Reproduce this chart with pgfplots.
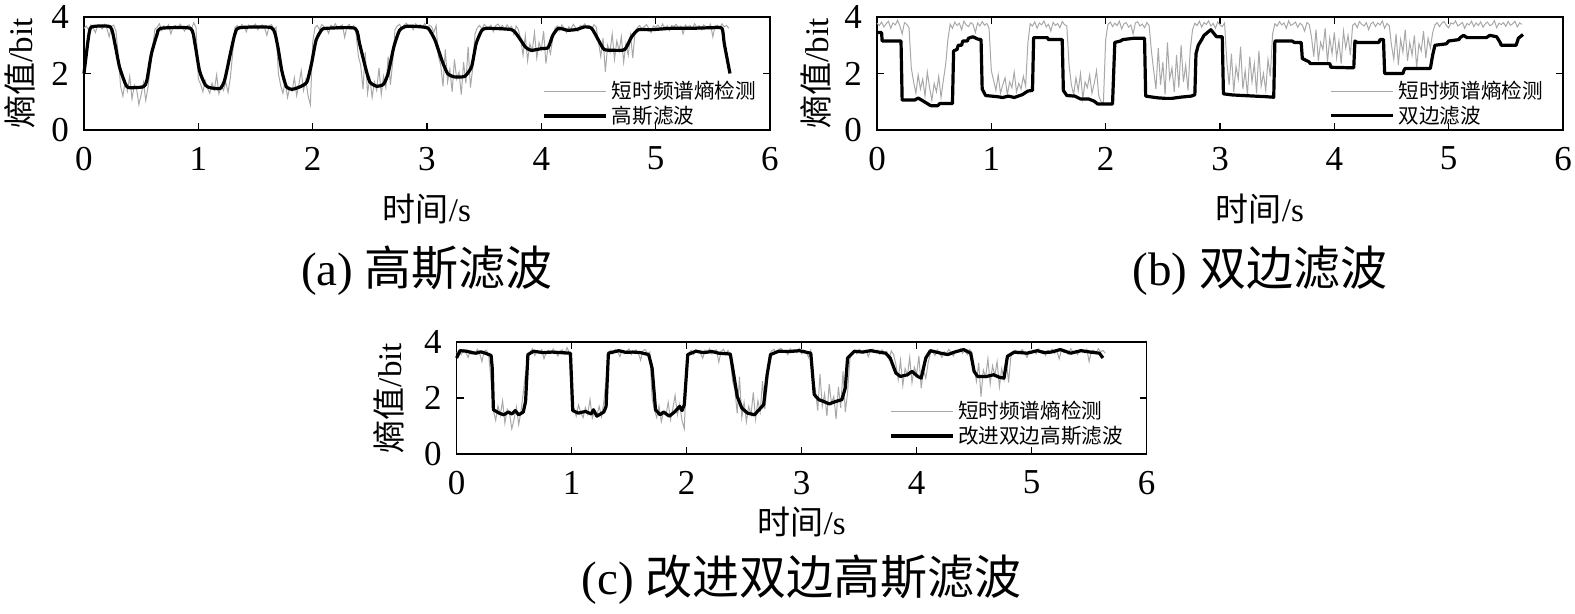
\documentclass[border=0pt]{standalone}
\usepackage{fontspec}
\setmainfont{Liberation Serif}
\newfontfamily\cjk{Noto Sans CJK SC}
\usepackage{pgfplots}
\usepackage{pgfplotstable}
\pgfplotsset{compat=1.18}

\definecolor{stgray}{RGB}{168,168,168}

% short-time spectral entropy, shared by (a) and (c)
\pgfplotstableread[row sep=\\]{
t y\\
0.00 3.60\\ 0.02 3.68\\ 0.04 3.55\\ 0.06 3.72\\ 0.08 3.62\\ 0.10 3.45\\ 0.12 3.70\\ 0.14 3.66\\ 0.16 3.58\\ 0.18 3.74\\
0.20 3.60\\ 0.22 3.30\\ 0.24 3.67\\ 0.26 3.71\\ 0.28 3.50\\ 0.30 2.60\\ 0.32 1.55\\ 0.34 1.20\\ 0.36 1.72\\ 0.38 1.38\\
0.40 1.90\\ 0.42 1.10\\ 0.44 1.60\\ 0.46 1.45\\ 0.48 0.90\\ 0.50 1.25\\ 0.52 1.68\\ 0.54 1.05\\ 0.56 1.52\\ 0.58 2.20\\
0.60 2.90\\ 0.62 3.57\\ 0.64 3.64\\ 0.66 3.76\\ 0.68 3.52\\ 0.70 3.69\\ 0.72 3.61\\ 0.74 3.73\\ 0.76 3.40\\ 0.78 3.65\\
0.80 3.70\\ 0.82 3.59\\ 0.84 3.75\\ 0.86 3.63\\ 0.88 3.50\\ 0.90 3.68\\ 0.92 3.72\\ 0.94 3.56\\ 0.96 3.80\\ 0.98 3.62\\
1.00 1.80\\ 1.02 1.62\\ 1.04 1.35\\ 1.06 1.75\\ 1.08 1.48\\ 1.10 1.30\\ 1.12 1.66\\ 1.14 1.42\\ 1.16 1.95\\ 1.18 1.28\\
1.20 1.55\\ 1.22 1.40\\ 1.24 1.70\\ 1.26 1.33\\ 1.28 1.85\\ 1.30 2.70\\ 1.32 3.62\\ 1.34 3.70\\ 1.36 3.58\\ 1.38 3.74\\
1.40 3.66\\ 1.42 3.48\\ 1.44 3.71\\ 1.46 3.60\\ 1.48 3.68\\ 1.50 3.75\\ 1.52 3.55\\ 1.54 3.67\\ 1.56 3.72\\ 1.58 3.61\\
1.60 3.35\\ 1.62 3.69\\ 1.64 3.73\\ 1.66 3.58\\ 1.68 3.64\\ 1.70 2.00\\ 1.72 1.58\\ 1.74 1.30\\ 1.76 1.72\\ 1.78 1.15\\
1.80 1.50\\ 1.82 1.38\\ 1.84 1.85\\ 1.86 1.22\\ 1.88 1.62\\ 1.90 2.10\\ 1.92 1.40\\ 1.94 1.78\\ 1.96 1.20\\ 1.98 0.90\\
2.00 3.10\\ 2.02 3.62\\ 2.04 3.70\\ 2.06 3.55\\ 2.08 3.73\\ 2.10 3.66\\ 2.12 3.60\\ 2.14 3.42\\ 2.16 3.71\\ 2.18 3.64\\
2.20 3.76\\ 2.22 3.57\\ 2.24 3.68\\ 2.26 3.72\\ 2.28 3.28\\ 2.30 3.66\\ 2.32 3.74\\ 2.34 3.59\\ 2.36 3.70\\ 2.38 3.40\\
2.40 2.60\\ 2.42 2.30\\ 2.44 1.45\\ 2.46 2.75\\ 2.48 1.30\\ 2.50 1.85\\ 2.52 1.15\\ 2.54 1.70\\ 2.56 1.40\\ 2.58 2.20\\
2.60 1.25\\ 2.62 1.90\\ 2.64 1.50\\ 2.66 2.60\\ 2.68 1.60\\ 2.70 2.40\\ 2.72 3.55\\ 2.74 3.68\\ 2.76 3.74\\ 2.78 3.60\\
2.80 3.72\\ 2.82 3.78\\ 2.84 3.65\\ 2.86 3.70\\ 2.88 3.55\\ 2.90 3.76\\ 2.92 3.69\\ 2.94 3.73\\ 2.96 3.62\\ 2.98 3.77\\
3.00 3.58\\ 3.02 3.71\\ 3.04 3.66\\ 3.06 3.45\\ 3.08 3.70\\ 3.10 2.60\\ 3.12 2.30\\ 3.14 1.55\\ 3.16 2.85\\ 3.18 1.70\\
3.20 2.15\\ 3.22 1.35\\ 3.24 2.50\\ 3.26 1.80\\ 3.28 2.05\\ 3.30 1.25\\ 3.32 2.40\\ 3.34 1.65\\ 3.36 2.95\\ 3.38 1.50\\
3.40 2.20\\ 3.42 3.40\\ 3.44 3.62\\ 3.46 3.70\\ 3.48 3.58\\ 3.50 3.74\\ 3.52 3.66\\ 3.54 3.60\\ 3.56 3.71\\ 3.58 3.48\\
3.60 3.69\\ 3.62 3.75\\ 3.64 3.63\\ 3.66 3.70\\ 3.68 3.56\\ 3.70 3.72\\ 3.72 3.61\\ 3.74 3.67\\ 3.76 3.38\\ 3.78 3.68\\
3.80 3.55\\ 3.82 3.20\\ 3.84 2.65\\ 3.86 3.35\\ 3.88 2.45\\ 3.90 3.05\\ 3.92 2.80\\ 3.94 3.45\\ 3.96 2.55\\ 3.98 3.10\\
4.00 2.85\\ 4.02 3.50\\ 4.04 2.35\\ 4.06 3.00\\ 4.08 2.70\\ 4.10 3.25\\ 4.12 3.60\\ 4.14 3.68\\ 4.16 3.52\\ 4.18 3.72\\
4.20 3.60\\ 4.22 3.45\\ 4.24 3.65\\ 4.26 3.58\\ 4.28 3.74\\ 4.30 3.62\\ 4.32 3.50\\ 4.34 3.70\\ 4.36 3.66\\ 4.38 3.76\\
4.40 3.60\\ 4.42 3.69\\ 4.44 3.55\\ 4.46 3.73\\ 4.48 3.64\\ 4.50 3.10\\ 4.52 2.60\\ 4.54 3.25\\ 4.56 2.05\\ 4.58 3.00\\
4.60 2.75\\ 4.62 3.40\\ 4.64 2.50\\ 4.66 3.15\\ 4.68 2.80\\ 4.70 3.30\\ 4.72 2.40\\ 4.74 3.05\\ 4.76 2.65\\ 4.78 3.35\\
4.80 2.55\\ 4.82 3.50\\ 4.84 3.62\\ 4.86 3.70\\ 4.88 3.57\\ 4.90 3.66\\ 4.92 3.73\\ 4.94 3.60\\ 4.96 3.45\\ 4.98 3.68\\
5.00 3.64\\ 5.02 3.71\\ 5.04 3.58\\ 5.06 3.75\\ 5.08 3.62\\ 5.10 3.69\\ 5.12 3.52\\ 5.14 3.70\\ 5.16 3.66\\ 5.18 3.74\\
5.20 3.60\\ 5.22 3.68\\ 5.24 3.40\\ 5.26 3.72\\ 5.28 3.63\\ 5.30 3.70\\ 5.32 3.57\\ 5.34 3.76\\ 5.36 3.64\\ 5.38 3.69\\
5.40 3.55\\ 5.42 3.72\\ 5.44 3.66\\ 5.46 3.61\\ 5.48 3.74\\ 5.50 3.30\\ 5.52 3.68\\ 5.54 3.71\\ 5.56 3.59\\ 5.58 3.76\\
5.60 3.65\\ 5.62 3.70\\ 5.64 3.60\\
}\grayA

% short-time spectral entropy as shown in (b)
\pgfplotstableread[row sep=\\]{
t y\\
0.00 3.78\\ 0.02 3.70\\ 0.04 3.82\\ 0.06 3.65\\ 0.08 3.76\\ 0.10 3.85\\ 0.12 3.60\\ 0.14 3.79\\ 0.16 3.72\\ 0.18 3.88\\
0.20 3.68\\ 0.22 3.40\\ 0.24 3.80\\ 0.26 3.74\\ 0.28 3.62\\ 0.30 2.20\\ 0.32 1.70\\ 0.34 1.30\\ 0.36 1.95\\ 0.38 1.45\\
0.40 1.80\\ 0.42 1.20\\ 0.44 2.05\\ 0.46 1.50\\ 0.48 1.05\\ 0.50 1.65\\ 0.52 1.35\\ 0.54 1.90\\ 0.56 1.15\\ 0.58 1.75\\
0.60 2.30\\ 0.62 3.20\\ 0.64 3.75\\ 0.66 3.60\\ 0.68 3.82\\ 0.70 3.70\\ 0.72 3.78\\ 0.74 3.55\\ 0.76 3.85\\ 0.78 3.72\\
0.80 3.66\\ 0.82 3.80\\ 0.84 3.74\\ 0.86 3.45\\ 0.88 3.79\\ 0.90 3.68\\ 0.92 3.84\\ 0.94 3.71\\ 0.96 3.77\\ 0.98 3.60\\
1.00 2.10\\ 1.02 1.75\\ 1.04 1.40\\ 1.06 1.95\\ 1.08 1.30\\ 1.10 1.60\\ 1.12 1.85\\ 1.14 1.25\\ 1.16 1.70\\ 1.18 1.50\\
1.20 2.05\\ 1.22 1.35\\ 1.24 1.65\\ 1.26 1.45\\ 1.28 1.90\\ 1.30 1.55\\ 1.32 3.10\\ 1.34 3.76\\ 1.36 3.68\\ 1.38 3.83\\
1.40 3.60\\ 1.42 3.79\\ 1.44 3.72\\ 1.46 3.86\\ 1.48 3.65\\ 1.50 3.74\\ 1.52 3.50\\ 1.54 3.81\\ 1.56 3.70\\ 1.58 3.77\\
1.60 3.62\\ 1.62 3.84\\ 1.64 3.73\\ 1.66 3.69\\ 1.68 2.30\\ 1.70 1.60\\ 1.72 1.25\\ 1.74 1.85\\ 1.76 1.40\\ 1.78 2.00\\
1.80 1.10\\ 1.82 1.70\\ 1.84 1.50\\ 1.86 1.95\\ 1.88 1.30\\ 1.90 1.65\\ 1.92 2.10\\ 1.94 1.20\\ 1.96 1.00\\ 1.98 0.95\\
2.00 3.20\\ 2.02 3.74\\ 2.04 3.82\\ 2.06 3.66\\ 2.08 3.78\\ 2.10 3.70\\ 2.12 3.85\\ 2.14 3.58\\ 2.16 3.76\\ 2.18 3.80\\
2.20 3.64\\ 2.22 3.72\\ 2.24 3.40\\ 2.26 3.79\\ 2.28 3.83\\ 2.30 3.68\\ 2.32 3.75\\ 2.34 3.62\\ 2.36 3.80\\ 2.38 3.70\\
2.40 2.80\\ 2.42 2.10\\ 2.44 1.45\\ 2.46 2.90\\ 2.48 1.60\\ 2.50 2.40\\ 2.52 1.25\\ 2.54 3.10\\ 2.56 1.80\\ 2.58 2.20\\
2.60 1.35\\ 2.62 2.65\\ 2.64 1.50\\ 2.66 3.00\\ 2.68 1.70\\ 2.70 2.30\\ 2.72 1.40\\ 2.74 2.85\\ 2.76 3.55\\ 2.78 3.78\\
2.80 3.70\\ 2.82 3.85\\ 2.84 3.64\\ 2.86 3.80\\ 2.88 3.74\\ 2.90 3.86\\ 2.92 3.68\\ 2.94 3.77\\ 2.96 3.60\\ 2.98 3.82\\
3.00 3.72\\ 3.02 3.66\\ 3.04 3.79\\ 3.06 2.40\\ 3.08 1.60\\ 3.10 2.70\\ 3.12 1.35\\ 3.14 2.25\\ 3.16 1.80\\ 3.18 2.95\\
3.20 1.45\\ 3.22 2.10\\ 3.24 1.25\\ 3.26 2.60\\ 3.28 1.70\\ 3.30 2.35\\ 3.32 1.30\\ 3.34 2.80\\ 3.36 1.55\\ 3.38 2.00\\
3.40 1.40\\ 3.42 2.50\\ 3.44 1.90\\ 3.46 3.40\\ 3.48 3.76\\ 3.50 3.68\\ 3.52 3.84\\ 3.54 3.72\\ 3.56 3.79\\ 3.58 3.60\\
3.60 3.86\\ 3.62 3.70\\ 3.64 3.75\\ 3.66 3.82\\ 3.68 3.64\\ 3.70 3.78\\ 3.72 3.71\\ 3.74 3.50\\ 3.76 3.80\\ 3.78 3.74\\
3.80 3.30\\ 3.82 2.60\\ 3.84 3.55\\ 3.86 2.45\\ 3.88 3.10\\ 3.90 2.85\\ 3.92 3.60\\ 3.94 2.40\\ 3.96 3.25\\ 3.98 2.70\\
4.00 3.45\\ 4.02 2.55\\ 4.04 3.15\\ 4.06 2.35\\ 4.08 3.50\\ 4.10 2.90\\ 4.12 3.35\\ 4.14 2.65\\ 4.16 3.70\\ 4.18 3.78\\
4.20 3.62\\ 4.22 3.84\\ 4.24 3.74\\ 4.26 3.68\\ 4.28 3.80\\ 4.30 3.55\\ 4.32 3.76\\ 4.34 3.82\\ 4.36 3.66\\ 4.38 3.79\\
4.40 3.72\\ 4.42 3.86\\ 4.44 3.60\\ 4.46 3.77\\ 4.48 3.70\\ 4.50 3.00\\ 4.52 2.50\\ 4.54 3.40\\ 4.56 2.30\\ 4.58 3.20\\
4.60 2.75\\ 4.62 3.55\\ 4.64 2.45\\ 4.66 3.10\\ 4.68 2.65\\ 4.70 3.35\\ 4.72 2.20\\ 4.74 3.05\\ 4.76 2.80\\ 4.78 3.50\\
4.80 2.55\\ 4.82 3.25\\ 4.84 2.90\\ 4.86 3.45\\ 4.88 3.72\\ 4.90 3.80\\ 4.92 3.66\\ 4.94 3.78\\ 4.96 3.84\\ 4.98 3.70\\
5.00 3.62\\ 5.02 3.79\\ 5.04 3.75\\ 5.06 3.86\\ 5.08 3.68\\ 5.10 3.74\\ 5.12 3.81\\ 5.14 3.60\\ 5.16 3.77\\ 5.18 3.72\\
5.20 3.85\\ 5.22 3.66\\ 5.24 3.79\\ 5.26 3.70\\ 5.28 3.83\\ 5.30 3.64\\ 5.32 3.76\\ 5.34 3.82\\ 5.36 3.69\\ 5.38 3.74\\
5.40 3.87\\ 5.42 3.62\\ 5.44 3.78\\ 5.46 3.73\\ 5.48 3.80\\ 5.50 3.67\\ 5.52 3.84\\ 5.54 3.71\\ 5.56 3.76\\ 5.58 3.85\\
5.60 3.65\\ 5.62 3.79\\ 5.64 3.74\\
}\grayB

\tikzset{capt/.style={font=\fontsize{23.5}{26}\selectfont, anchor=center}}

\pgfplotsset{
  entax/.style={
    width=343pt, height=56.5pt, scale only axis,
    xmin=0, xmax=6, ymin=0, ymax=4,
    xtick={0,1,2,3,4,5,6}, ytick={0,2,4},
    tick align=inside, tick pos=both, major tick length=3.5pt,
    axis line style={line width=0.6pt},
    every tick/.style={line width=0.6pt, black},
    /pgf/number format/assume math mode=true,
    tick label style={font=\fontsize{17.5}{18}\selectfont},
    xticklabel style={yshift=-5pt},
    yticklabel style={xshift=-4pt},
    label style={font=\fontsize{16.5}{18}\selectfont},
    xlabel={{\cjk 时间}/s}, ylabel={{\cjk 熵值}/bit},
    xlabel style={at={(axis description cs:0.5,0)}, anchor=center, yshift=-39.5pt},
    ylabel style={at={(axis description cs:0,0.5)}, anchor=center, yshift=32pt},
    clip=false,
    legend style={draw=none, fill=none, inner sep=0pt, anchor=north west,
      font=\cjk\fontsize{10.3}{12}\selectfont, row sep=-2pt},
    legend cell align=left,
    legend image code/.code={\draw[#1] (0pt,0pt) -- (31pt,0pt);},
  },
  raw/.style={stgray, line width=0.5pt},
  filt/.style={black, line width=1.6pt, line join=round},
}

\begin{document}
\begin{tikzpicture}
\useasboundingbox (0,0) rectangle (787.5pt,-307pt);

% (a)
\begin{axis}[entax, at={(42pt,-65pt)},
  legend style={at={(rel axis cs:0.668,0.47)}}]
  \addplot[raw] table[x=t,y=y] {\grayA};
  \addplot[filt, smooth, tension=0.35] coordinates {
    (0,2.0)(0.04,3.3)(0.067,3.65)(0.23,3.65)(0.27,3.06)(0.31,2.24)(0.36,1.65)(0.39,1.5)
    (0.52,1.53)(0.55,1.76)(0.59,2.7)(0.64,3.4)(0.67,3.6)(0.93,3.6)(0.97,3.06)(1.01,2.1)
    (1.06,1.6)(1.10,1.5)(1.19,1.47)(1.23,1.76)(1.28,2.7)(1.32,3.4)(1.36,3.62)(1.64,3.62)
    (1.69,3.06)(1.73,2.1)(1.77,1.53)(1.82,1.44)(1.89,1.53)(1.95,1.7)(1.99,2.35)(2.03,3.18)
    (2.08,3.55)(2.12,3.6)(2.37,3.6)(2.41,3.06)(2.46,2.24)(2.50,1.7)(2.56,1.55)(2.62,1.62)
    (2.66,2.0)(2.71,2.94)(2.76,3.53)(2.82,3.67)(2.92,3.66)(3.01,3.6)(3.07,3.18)(3.13,2.47)
    (3.18,2.0)(3.24,1.88)(3.33,1.9)(3.39,2.24)(3.43,3.06)(3.48,3.53)(3.53,3.6)(3.74,3.55)
    (3.80,3.3)(3.86,2.94)(3.91,2.82)(4.00,2.88)(4.06,2.92)(4.10,3.35)(4.15,3.6)(4.23,3.53)
    (4.31,3.56)(4.38,3.65)(4.44,3.6)(4.50,3.18)(4.55,2.85)(4.64,2.82)(4.73,2.85)(4.79,3.3)
    (4.85,3.55)(4.96,3.55)(5.14,3.6)(5.31,3.6)(5.49,3.62)(5.58,3.6)(5.60,3.06)(5.65,2.0)};
  \legend{短时频谱熵检测, 高斯滤波}
  \node[capt] at (rel axis cs:0.5,0) [yshift=-70.5pt] {(a) {\cjk 高斯滤波}};
\end{axis}

% (b)
\begin{axis}[entax, at={(438.5pt,-65pt)},
  xlabel style={xshift=20pt},
  ylabel style={yshift=-1.5pt},
  legend style={at={(rel axis cs:0.659,0.47)}}]
  \addplot[raw] table[x=t,y=y] {\grayB};
  \addplot[filt] coordinates {
    (0,3.45)(0.04,3.45)(0.045,3.15)(0.21,3.15)(0.22,1.06)(0.33,1.06)(0.36,1.13)(0.39,1.06)
    (0.43,0.96)(0.47,0.86)(0.53,0.86)(0.55,0.94)(0.66,0.94)(0.67,2.8)(0.70,2.85)(0.71,3.0)
    (0.74,3.0)(0.75,3.15)(0.79,3.15)(0.80,3.25)(0.84,3.3)(0.88,3.22)(0.91,3.2)(0.92,1.45)
    (0.95,1.22)(1.05,1.18)(1.10,1.15)(1.15,1.2)(1.20,1.15)(1.27,1.25)(1.32,1.38)(1.36,1.4)
    (1.37,3.27)(1.49,3.27)(1.50,3.2)(1.62,3.2)(1.63,1.4)(1.66,1.22)(1.73,1.2)(1.78,1.1)
    (1.85,1.1)(1.90,1.02)(1.93,0.92)(2.06,0.92)(2.08,3.1)(2.13,3.15)(2.15,3.2)(2.25,3.25)
    (2.34,3.25)(2.35,1.2)(2.45,1.14)(2.52,1.12)(2.58,1.12)(2.65,1.16)(2.75,1.2)(2.78,1.25)
    (2.79,2.7)(2.81,3.0)(2.84,3.2)(2.86,3.35)(2.89,3.45)(2.92,3.55)(2.95,3.4)(2.97,3.3)
    (3.02,3.3)(3.03,1.28)(3.11,1.24)(3.30,1.2)(3.40,1.18)(3.47,1.16)(3.48,3.15)(3.63,3.15)
    (3.65,3.1)(3.71,3.1)(3.72,2.53)(3.78,2.41)(3.79,2.35)(3.96,2.35)(3.97,2.22)(4.17,2.2)
    (4.18,3.15)(4.20,3.1)(4.39,3.1)(4.40,3.2)(4.43,3.2)(4.44,2.0)(4.60,2.0)(4.61,2.12)
    (4.62,2.18)(4.84,2.18)(4.86,2.65)(4.88,3.0)(4.98,3.05)(5.00,3.15)(5.09,3.2)(5.10,3.27)
    (5.13,3.35)(5.16,3.27)(5.33,3.27)(5.36,3.35)(5.42,3.3)(5.45,3.1)(5.46,3.0)(5.59,3.0)
    (5.61,3.25)(5.65,3.38)};
  \legend{短时频谱熵检测, 双边滤波}
  \node[capt] at (rel axis cs:0.5,0) [yshift=-70.5pt, xshift=20pt] {(b) {\cjk 双边滤波}};
\end{axis}

% (c)
\begin{axis}[entax, at={(228.3pt,-227pt)}, width=345pt, height=56pt,
  xlabel style={yshift=5.5pt},
  ylabel style={yshift=2pt},
  legend style={at={(rel axis cs:0.626,0.51)}}]
  \addplot[raw] table[x=t,y=y] {\grayA};
  \addplot[filt] coordinates {
    (0,3.43)(0.03,3.69)(0.09,3.67)(0.13,3.62)(0.17,3.6)(0.21,3.65)(0.25,3.6)(0.30,3.52)
    (0.31,3.07)(0.32,1.58)(0.37,1.46)(0.41,1.4)(0.45,1.5)(0.48,1.43)(0.51,1.55)(0.54,1.4)
    (0.58,1.5)(0.60,1.88)(0.62,3.55)(0.67,3.67)(0.75,3.62)(0.83,3.64)(0.91,3.62)(0.99,3.6)
    (1.01,1.55)(1.06,1.46)(1.12,1.52)(1.17,1.43)(1.19,1.58)(1.22,1.35)(1.28,1.5)(1.30,1.7)
    (1.32,3.6)(1.41,3.69)(1.47,3.63)(1.53,3.64)(1.60,3.62)(1.67,3.55)(1.70,3.07)(1.73,1.58)
    (1.77,1.4)(1.80,1.5)(1.85,1.35)(1.90,1.52)(1.94,1.7)(1.96,1.55)(1.98,1.76)(2.01,3.55)
    (2.08,3.67)(2.15,3.62)(2.22,3.66)(2.28,3.6)(2.38,3.57)(2.41,2.83)(2.44,2.06)(2.48,1.64)
    (2.53,1.46)(2.59,1.4)(2.63,1.58)(2.67,1.76)(2.70,2.83)(2.73,3.55)(2.80,3.67)(2.90,3.66)
    (2.98,3.69)(3.08,3.6)(3.11,2.12)(3.15,1.94)(3.19,1.88)(3.24,1.79)(3.30,1.88)(3.35,1.94)
    (3.38,2.36)(3.40,3.43)(3.46,3.67)(3.53,3.64)(3.60,3.69)(3.73,3.6)(3.77,3.43)(3.82,2.89)
    (3.86,2.77)(3.92,2.83)(3.96,2.95)(4.01,2.77)(4.04,2.71)(4.08,3.43)(4.12,3.69)(4.21,3.6)
    (4.27,3.55)(4.33,3.64)(4.41,3.73)(4.47,3.6)(4.50,2.95)(4.53,2.77)(4.61,2.77)(4.67,2.83)
    (4.72,2.74)(4.76,2.71)(4.79,3.49)(4.85,3.64)(4.96,3.6)(5.05,3.69)(5.11,3.62)(5.17,3.64)
    (5.25,3.73)(5.34,3.6)(5.43,3.69)(5.51,3.64)(5.59,3.6)(5.62,3.43)};
  \legend{短时频谱熵检测, 改进双边高斯滤波}
  \node[capt] at (rel axis cs:0.5,0) [yshift=-63pt] {(c) {\cjk 改进双边高斯滤波}};
\end{axis}
\end{tikzpicture}
\end{document}
